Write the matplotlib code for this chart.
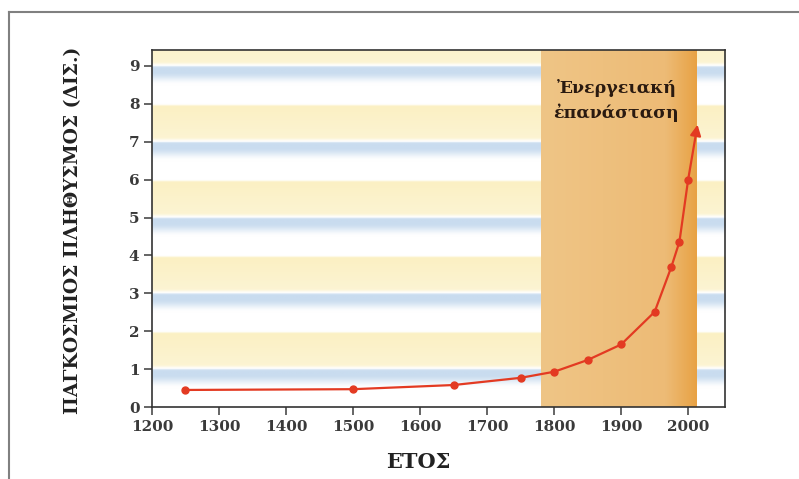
import numpy as np
import matplotlib
matplotlib.use("Agg")
import matplotlib.pyplot as plt
from matplotlib.colors import to_rgb
from matplotlib.lines import Line2D

# World population (billions) by year
years = [1250, 1500, 1650, 1750, 1800, 1850, 1900, 1950, 1975, 1987, 2000]
population = [0.45, 0.47, 0.58, 0.77, 0.93, 1.24, 1.65, 2.51, 3.70, 4.36, 6.00]
arrow_year = 2014
arrow_value = 7.45

# Energy revolution period shading
era_start, era_end = 1780, 2012
era_label = "Ἐνεργειακή\nἐπανάσταση"

x_ticks = [1200, 1300, 1400, 1500, 1600, 1700, 1800, 1900, 2000]
y_ticks = list(range(0, 10))
x_title = "ΕΤΟΣ"
y_title = "ΠΑΓΚΟΣΜΙΟΣ ΠΛΗΘΥΣΜΟΣ (ΔΙΣ.)"

XMIN, XMAX = 1200, 2055
YMIN, YMAX = 0, 9.42

plt.rcParams["font.family"] = ["DejaVu Serif"]

fig = plt.figure(figsize=(7.99, 4.79), dpi=100)
ax = fig.add_axes([0.1902, 0.1503, 0.7172, 0.7453])


def smoothstep(a, b, v):
    t = np.clip((v - a) / (b - a), 0.0, 1.0)
    return t * t * (3 - 2 * t)


# Striped background: soft yellow, blue and white bands repeating every 2 units
white = np.array(to_rgb("#ffffff"))
yellow = np.array(to_rgb("#fbf0c2"))
blue = np.array(to_rgb("#c9dcef"))
ys = np.linspace(YMIN, YMAX, 1500)
rows = np.zeros((len(ys), 3))
for i, y in enumerate(ys):
    k = int(np.floor(y))
    frac = y - k
    if k % 2 == 1:
        # yellow band: soft lower edge, brighter toward the top
        t = smoothstep(0.0, 0.12, frac) * (0.7 + 0.3 * frac)
        top_blend = smoothstep(0.93, 1.0, frac)
        col = white + (yellow - white) * t
        rows[i] = col * (1 - top_blend) + white * top_blend
    else:
        # blue band: strongest just below the next yellow band, fading downward
        t = smoothstep(0.5, 0.85, frac) * (1 - smoothstep(0.95, 1.0, frac) * 0.4)
        rows[i] = white + (blue - white) * t
img = np.repeat(rows[:, None, :], 4, axis=1)
ax.imshow(img, extent=[XMIN, XMAX, YMIN, YMAX], origin="lower",
          aspect="auto", interpolation="bilinear", zorder=0)

# Orange era band with a horizontal gradient
c_left = np.array(to_rgb("#efc586"))
c_mid = np.array(to_rgb("#edbb76"))
c_right = np.array(to_rgb("#e8a244"))
xs = np.linspace(0, 1, 300)
band = np.zeros((1, len(xs), 3))
for j, s in enumerate(xs):
    if s < 0.8:
        band[0, j] = c_left + (c_mid - c_left) * (s / 0.8)
    else:
        band[0, j] = c_mid + (c_right - c_mid) * ((s - 0.8) / 0.2)
ax.imshow(np.repeat(band, 4, axis=0), extent=[era_start, era_end, YMIN, YMAX],
          origin="lower", aspect="auto", interpolation="bilinear", zorder=1)

line_color = "#e33a22"
ax.plot(years, population, color=line_color, lw=1.6, zorder=3)
ax.plot(years, population, "o", color=line_color, ms=5, zorder=4)
ax.annotate("", xy=(arrow_year, arrow_value), xytext=(years[-1], population[-1]),
            arrowprops=dict(arrowstyle="-|>", color=line_color, lw=1.6,
                            mutation_scale=16, shrinkA=0, shrinkB=0),
            zorder=5)

ax.text(1893, 8.1, era_label, ha="center", va="center", fontsize=12.5,
        fontweight="bold", color="#2a1a10", linespacing=1.45, zorder=6)

ax.set_xlim(XMIN, XMAX)
ax.set_ylim(YMIN, YMAX)
ax.set_xticks(x_ticks)
ax.set_yticks(y_ticks)
ax.tick_params(direction="out", length=6, width=1.1, labelsize=11,
               colors="#3a3a3a", pad=3)
for lbl in ax.get_xticklabels() + ax.get_yticklabels():
    lbl.set_fontweight("bold")
for sp in ax.spines.values():
    sp.set_color("#333333")
    sp.set_linewidth(1.2)

fig.text(0.092, 0.52, y_title, rotation=90, ha="center", va="center",
         fontsize=13.5, fontweight="bold", color="#222222")
fig.text(0.523, 0.035, x_title, ha="center", va="center",
         fontsize=15, fontweight="bold", color="#222222")

# Page frame around the figure (open on the right and bottom)
fig.add_artist(Line2D([0.011, 0.011], [0.0, 0.975], transform=fig.transFigure,
                      color="#808080", lw=1.5))
fig.add_artist(Line2D([0.011, 1.0], [0.975, 0.975], transform=fig.transFigure,
                      color="#808080", lw=1.5))

fig.savefig("out.png", dpi=100)
